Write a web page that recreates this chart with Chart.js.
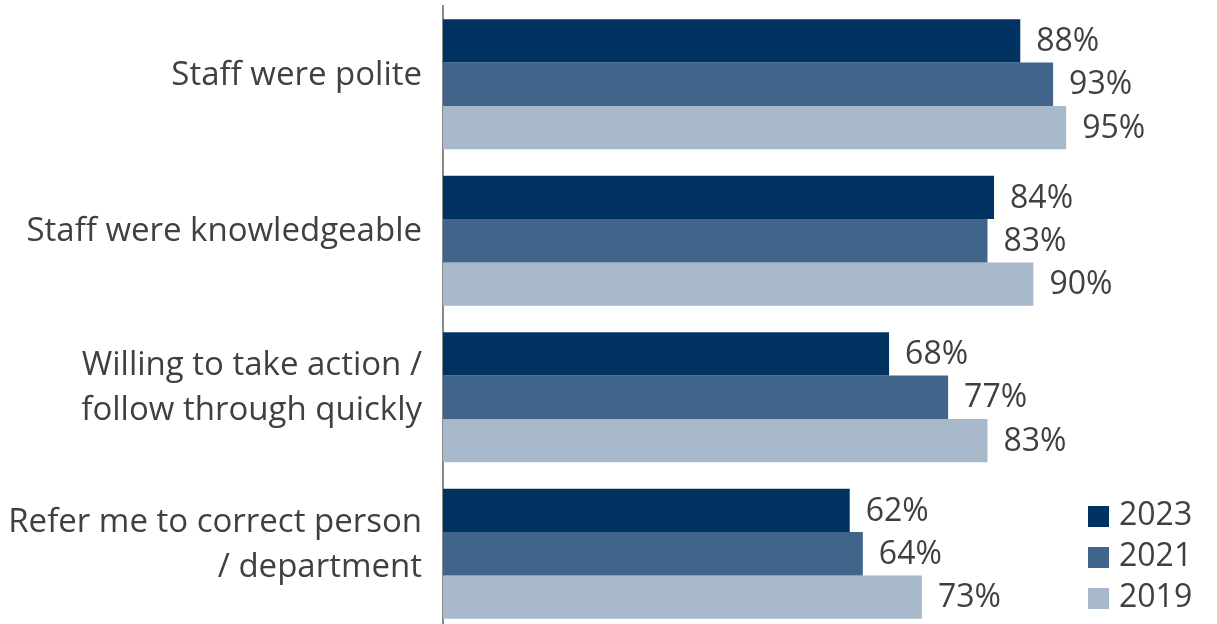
<!DOCTYPE html>
<html>
<head>
<meta charset="utf-8">
<script src="https://cdn.jsdelivr.net/npm/chart.js@4.4.1/dist/chart.umd.min.js"></script>
<style>
  html, body { margin: 0; padding: 0; background: #fff; overflow: hidden; }
  #wrap { position: relative; width: 1217px; height: 632px; }
</style>
</head>
<body>
<div id="wrap"><canvas id="myChart"></canvas></div>
<script>
const categories = [
  "Staff were polite",
  "Staff were knowledgeable",
  ["Willing to take action /", "follow through quickly"],
  ["Refer me to correct person", "/ department"]
];
const years = ["2023", "2021", "2019"];
const values2023 = [88, 84, 68, 62];
const values2021 = [93, 83, 77, 64];
const values2019 = [95, 90, 83, 73];
const colors = ["#003362", "#41658A", "#A8B9CC"];

const FONT = "'Open Sans', Lato, sans-serif";
const TEXT = "#404040";

// value labels at the end of each bar
const barLabels = {
  id: "barLabels",
  afterDatasetsDraw(chart) {
    const ctx = chart.ctx;
    ctx.save();
    ctx.font = "32px " + FONT;
    ctx.fillStyle = TEXT;
    ctx.textAlign = "left";
    ctx.textBaseline = "middle";
    chart.data.datasets.forEach((ds, i) => {
      chart.getDatasetMeta(i).data.forEach((bar, j) => {
        ctx.fillText(ds.data[j] + "%", bar.x + 16, bar.y + 1);
      });
    });
    ctx.restore();
  }
};

// legend stacked in the lower right corner
const cornerLegend = {
  id: "cornerLegend",
  afterDraw(chart) {
    const ctx = chart.ctx;
    ctx.save();
    ctx.font = "32px " + FONT;
    ctx.textBaseline = "middle";
    chart.data.datasets.forEach((ds, i) => {
      const cy = 516 + i * 41;
      ctx.fillStyle = ds.backgroundColor;
      ctx.fillRect(1088, cy - 10, 21, 21);
      ctx.fillStyle = TEXT;
      ctx.fillText(ds.label, 1119, cy);
    });
    ctx.restore();
  }
};

new Chart(document.getElementById("myChart"), {
  type: "bar",
  data: {
    labels: categories,
    datasets: [
      { label: years[0], data: values2023, backgroundColor: colors[0] },
      { label: years[1], data: values2021, backgroundColor: colors[1] },
      { label: years[2], data: values2019, backgroundColor: colors[2] }
    ]
  },
  options: {
    indexAxis: "y",
    responsive: true,
    maintainAspectRatio: false,
    animation: false,
    layout: { padding: { top: 6, right: 118, bottom: 0, left: 0 } },
    datasets: {
      bar: { categoryPercentage: 0.83, barPercentage: 1.0 }
    },
    scales: {
      x: {
        display: false,
        min: 0,
        max: 100
      },
      y: {
        grid: { drawOnChartArea: false, drawTicks: false },
        border: { display: true, color: "#888888", width: 2 },
        ticks: {
          color: TEXT,
          font: { family: FONT, size: 33, lineHeight: 1.36 },
          padding: 21,
          labelOffset: -9
        },
        afterFit(scale) {
          scale.width = 443;
          scale.paddingTop = 0;
          scale.paddingBottom = 0;
        }
      }
    },
    plugins: {
      legend: { display: false },
      tooltip: { enabled: false }
    }
  },
  plugins: [barLabels, cornerLegend]
});
</script>
</body>
</html>
